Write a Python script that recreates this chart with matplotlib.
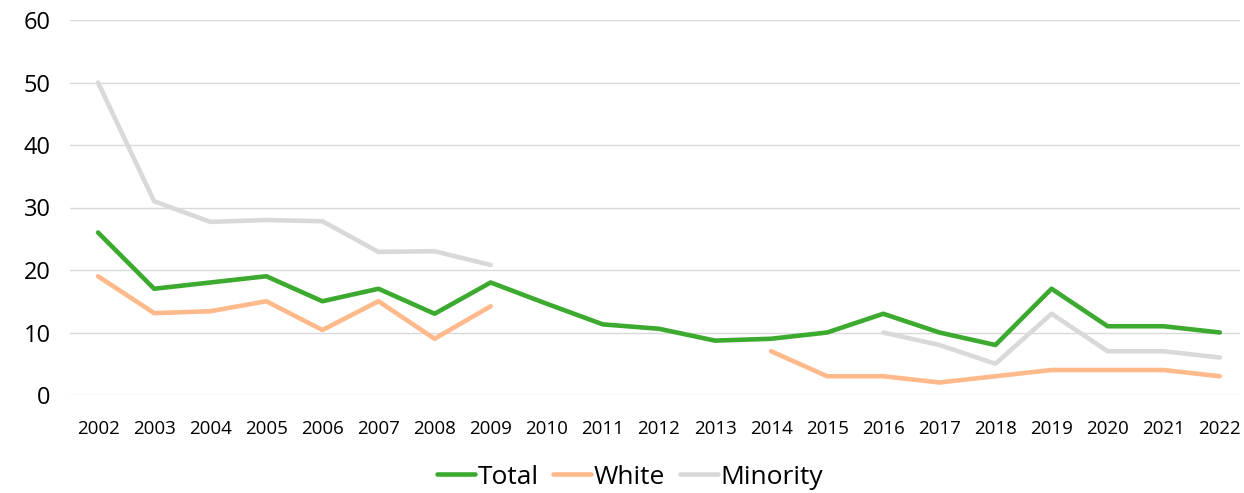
import numpy as np
import matplotlib

matplotlib.use("Agg")
import matplotlib.pyplot as plt

years = [str(y) for y in range(2002, 2023)]
nan = np.nan
total = [26, 17, 18, 19, 15, 17, 13, 18, 14.6, 11.3, 10.6, 8.7, 9, 10, 13, 10, 8, 17, 11, 11, 10]
white = [19, 13.1, 13.4, 15, 10.4, 15, 9, 14.2, nan, nan, nan, nan, 7, 3, 3, 2, 3, 4, 4, 4, 3]
minority = [50, 31, 27.7, 28, 27.8, 22.9, 23, 20.8, nan, nan, nan, nan, nan, nan, 10, 8, 5, 13, 7, 7, 6]

plt.rcParams["font.family"] = ["Open Sans", "DejaVu Sans"]

fig = plt.figure(figsize=(12.44, 4.93), dpi=100)
ax = fig.add_axes([70 / 1244, 1 - 395 / 493, 1170 / 1244, 375 / 493])

x = np.arange(len(years))
ax.plot(x, total, color="#3CAA2E", linewidth=3.3, label="Total", solid_capstyle="round")
ax.plot(x, white, color="#FFB98A", linewidth=3.3, label="White", solid_capstyle="round")
ax.plot(x, minority, color="#D9D9D9", linewidth=3.3, label="Minority", solid_capstyle="round")

ax.set_xlim(-0.5, 20.36)
ax.set_ylim(0, 60)
ax.set_yticks(range(0, 61, 10))
ax.set_xticks(x)
ax.set_xticklabels(years)
ax.tick_params(axis="x", labelsize=13.5, length=0, pad=18)
ax.tick_params(axis="y", labelsize=17, length=0, pad=14)
ax.grid(axis="y", color="#D9D9D9", linewidth=1)
ax.set_axisbelow(True)
for s in ax.spines.values():
    s.set_visible(False)

fig.legend(loc="center", bbox_to_anchor=(630 / 1244, 1 - 477 / 493), ncol=3, frameon=False,
           fontsize=19, handlelength=1.45, handletextpad=0.1, columnspacing=0.55)

fig.savefig("out.png", dpi=100)
plt.close(fig)
